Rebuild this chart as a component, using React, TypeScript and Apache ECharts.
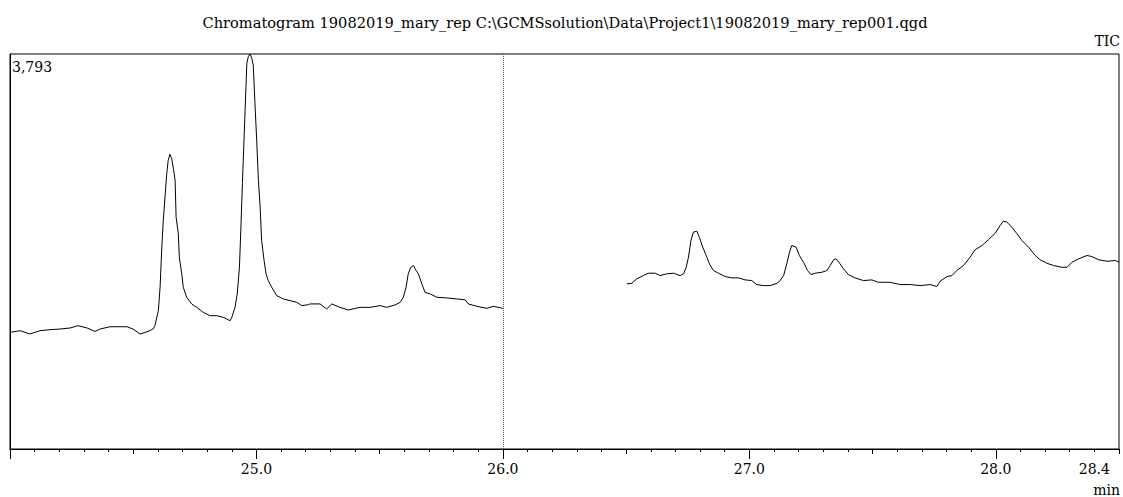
import { useEffect, useRef } from "react";
import * as echarts from "echarts";

const titleText =
  "Chromatogram 19082019_mary_rep C:\\GCMSsolution\\Data\\Project1\\19082019_mary_rep001.qgd";
const channelLabel = "TIC";
const yMaxLabel = "3,793";
const xUnit = "min";

const xMin = 24.0;
const xMax = 28.5;
const yMin = 0;
const yMax = 3793;

const majorTicks = [24.0, 25.0, 26.0, 27.0, 28.0];
const tickLabels = [25.0, 26.0, 27.0, 28.0, 28.4];
const midInterval = 0.5;
const minorSplit = 5;
const markerTime = 26.0;

// first acquisition segment (min, intensity)
const timesA = [
  24.0, 24.041, 24.081, 24.122, 24.162, 24.203, 24.244, 24.276, 24.313, 24.345,
  24.365, 24.406, 24.475, 24.499, 24.528, 24.56, 24.58, 24.588, 24.602, 24.609,
  24.616, 24.622, 24.629, 24.636, 24.642, 24.649, 24.656, 24.663, 24.67, 24.674,
  24.683, 24.687, 24.697, 24.703, 24.717, 24.737, 24.758, 24.784, 24.812, 24.839,
  24.866, 24.893, 24.9, 24.913, 24.922, 24.931, 24.937, 24.943, 24.948, 24.954,
  24.961, 24.967, 24.974, 24.981, 24.987, 24.994, 25.001, 25.008, 25.015, 25.021,
  25.031, 25.039, 25.048, 25.062, 25.082, 25.109, 25.136, 25.164, 25.184, 25.211,
  25.218, 25.258, 25.285, 25.306, 25.339, 25.373, 25.42, 25.461, 25.502, 25.529,
  25.562, 25.583, 25.596, 25.607, 25.616, 25.626, 25.637, 25.648, 25.657, 25.671,
  25.684, 25.705, 25.732, 25.772, 25.813, 25.847, 25.86, 25.894, 25.935, 25.961,
  26.0,
];
const valuesA = [
  1120, 1136, 1104, 1136, 1146, 1152, 1162, 1184, 1162, 1129,
  1152, 1174, 1174, 1152, 1104, 1129, 1152, 1184, 1329, 1553,
  1938, 2195, 2419, 2645, 2773, 2830, 2789, 2693, 2580, 2227,
  2067, 1842, 1682, 1553, 1457, 1393, 1360, 1312, 1280, 1280,
  1264, 1232, 1264, 1360, 1489, 1745, 2130, 2548, 2869, 3254,
  3703, 3767, 3793, 3752, 3687, 3318, 2965, 2580, 2323, 2002,
  1810, 1682, 1617, 1553, 1473, 1441, 1425, 1408, 1377, 1386,
  1393, 1393, 1345, 1393, 1360, 1335, 1360, 1360, 1377, 1360,
  1383, 1408, 1457, 1553, 1682, 1745, 1762, 1714, 1682, 1586,
  1505, 1489, 1457, 1451, 1441, 1432, 1393, 1370, 1351, 1370,
  1351,
];

// second acquisition segment (min, intensity)
const timesB = [
  26.503, 26.523, 26.543, 26.57, 26.59, 26.618, 26.638, 26.665, 26.692, 26.719,
  26.733, 26.744, 26.753, 26.763, 26.773, 26.787, 26.797, 26.811, 26.825, 26.838,
  26.854, 26.875, 26.902, 26.929, 26.956, 26.983, 27.01, 27.03, 27.057, 27.084,
  27.112, 27.125, 27.139, 27.152, 27.163, 27.172, 27.19, 27.203, 27.22, 27.236,
  27.25, 27.267, 27.294, 27.315, 27.328, 27.342, 27.352, 27.366, 27.382, 27.402,
  27.429, 27.463, 27.497, 27.524, 27.571, 27.612, 27.653, 27.693, 27.734, 27.761,
  27.774, 27.802, 27.822, 27.842, 27.869, 27.896, 27.916, 27.944, 27.97, 27.998,
  28.018, 28.031, 28.045, 28.065, 28.086, 28.106, 28.133, 28.16, 28.18, 28.207,
  28.234, 28.268, 28.289, 28.309, 28.336, 28.37, 28.39, 28.417, 28.451, 28.485,
  28.5,
];
const valuesB = [
  1586, 1591, 1634, 1665, 1688, 1688, 1665, 1682, 1688, 1665,
  1682, 1745, 1842, 2002, 2082, 2092, 2034, 1938, 1858, 1778,
  1714, 1688, 1656, 1643, 1643, 1624, 1617, 1579, 1569, 1569,
  1591, 1617, 1665, 1778, 1890, 1954, 1938, 1858, 1793, 1714,
  1675, 1688, 1697, 1714, 1762, 1817, 1826, 1784, 1730, 1675,
  1643, 1617, 1624, 1601, 1601, 1579, 1579, 1569, 1579, 1560,
  1611, 1656, 1665, 1714, 1762, 1842, 1913, 1954, 2009, 2073,
  2147, 2188, 2179, 2130, 2067, 2002, 1938, 1858, 1817, 1784,
  1762, 1745, 1745, 1793, 1826, 1858, 1848, 1817, 1803, 1810,
  1793,
];

const FONT = "DejaVu Serif";
const FS = 14;

export default function App() {
  const ref = useRef<HTMLDivElement>(null);

  useEffect(() => {
    if (!ref.current) return;
    const chart = echarts.init(ref.current, undefined, { renderer: "svg" });

    const segA = timesA.map((t, i) => [t, valuesA[i]]);
    const segB = timesB.map((t, i) => [t, valuesB[i]]);

    const rect = { left: 10, right: 4, top: 54, bottom: 48, containLabel: false, outerBoundsMode: "none" };
    const black = { color: "#000", width: 1 };

    const textStyle = (align: string, size = FS) => ({
      fill: "#000",
      fontFamily: FONT,
      fontSize: size,
      align,
      verticalAlign: "middle",
    });

    chart.setOption({
      animation: false,
      backgroundColor: "#fff",
      grid: [
        { ...rect, show: true, borderColor: "#000", borderWidth: 1, backgroundColor: "transparent" },
        { ...rect, show: false },
      ],
      xAxis: [
        {
          type: "value",
          gridIndex: 0,
          min: xMin,
          max: xMax,
          interval: midInterval,
          position: "bottom",
          axisLine: { show: true, onZero: false, lineStyle: black },
          axisTick: { show: true, customValues: majorTicks, length: 10, lineStyle: black },
          minorTick: { show: true, splitNumber: minorSplit, length: 3, lineStyle: black },
          axisLabel: {
            show: true,
            customValues: tickLabels,
            formatter: (v: number) => v.toFixed(1),
            color: "#000",
            fontFamily: FONT,
            fontSize: FS,
            margin: 13,
            hideOverlap: false,
          },
          splitLine: { show: false },
          minorSplitLine: { show: false },
        },
        {
          type: "value",
          gridIndex: 1,
          min: xMin,
          max: xMax,
          interval: midInterval,
          position: "bottom",
          offset: 0,
          axisLine: { show: true, onZero: false, lineStyle: black },
          axisTick: { show: true, length: 5, lineStyle: black },
          minorTick: { show: true, splitNumber: minorSplit, length: 3, lineStyle: black },
          axisLabel: { show: false },
          splitLine: { show: false },
        },
      ],
      yAxis: [
        {
          type: "value",
          gridIndex: 0,
          min: yMin,
          max: yMax,
          axisLine: { show: true, lineStyle: black },
          axisTick: { show: false },
          axisLabel: { show: false },
          splitLine: { show: false },
        },
        {
          type: "value",
          gridIndex: 1,
          min: yMin,
          max: yMax,
          axisLine: { show: false },
          axisTick: { show: false },
          axisLabel: { show: false },
          splitLine: { show: false },
        },
      ],
      series: [
        {
          type: "line",
          xAxisIndex: 0,
          yAxisIndex: 0,
          data: segA,
          symbol: "none",
          showSymbol: false,
          silent: true,
          lineStyle: { color: "#000", width: 1 },
          markLine: {
            silent: true,
            symbol: ["none", "none"],
            label: { show: false },
            lineStyle: { type: "dotted", color: "#555", width: 1 },
            data: [{ xAxis: markerTime }],
          },
        },
        {
          type: "line",
          xAxisIndex: 0,
          yAxisIndex: 0,
          data: segB,
          symbol: "none",
          showSymbol: false,
          silent: true,
          lineStyle: { color: "#000", width: 1 },
        },
        {
          // invisible carrier so the tick-only axis in grid 1 has a data extent
          type: "line",
          xAxisIndex: 1,
          yAxisIndex: 1,
          data: segB,
          symbol: "none",
          showSymbol: false,
          silent: true,
          lineStyle: { opacity: 0, width: 0 },
        },
      ],
      graphic: [
        { type: "text", x: 565, y: 22, style: { text: titleText, ...textStyle("center", 14.6) } },
        { type: "text", x: 1120, y: 41, style: { text: channelLabel, ...textStyle("right") } },
        { type: "text", x: 12, y: 67, style: { text: yMaxLabel, ...textStyle("left") } },
        { type: "text", x: 1120, y: 490, style: { text: xUnit, ...textStyle("right") } },
      ],
    });

    return () => chart.dispose();
  }, []);

  return (
    <div
      ref={ref}
      style={{ position: "absolute", left: 0, top: 0, width: 1123, height: 497 }}
    />
  );
}
